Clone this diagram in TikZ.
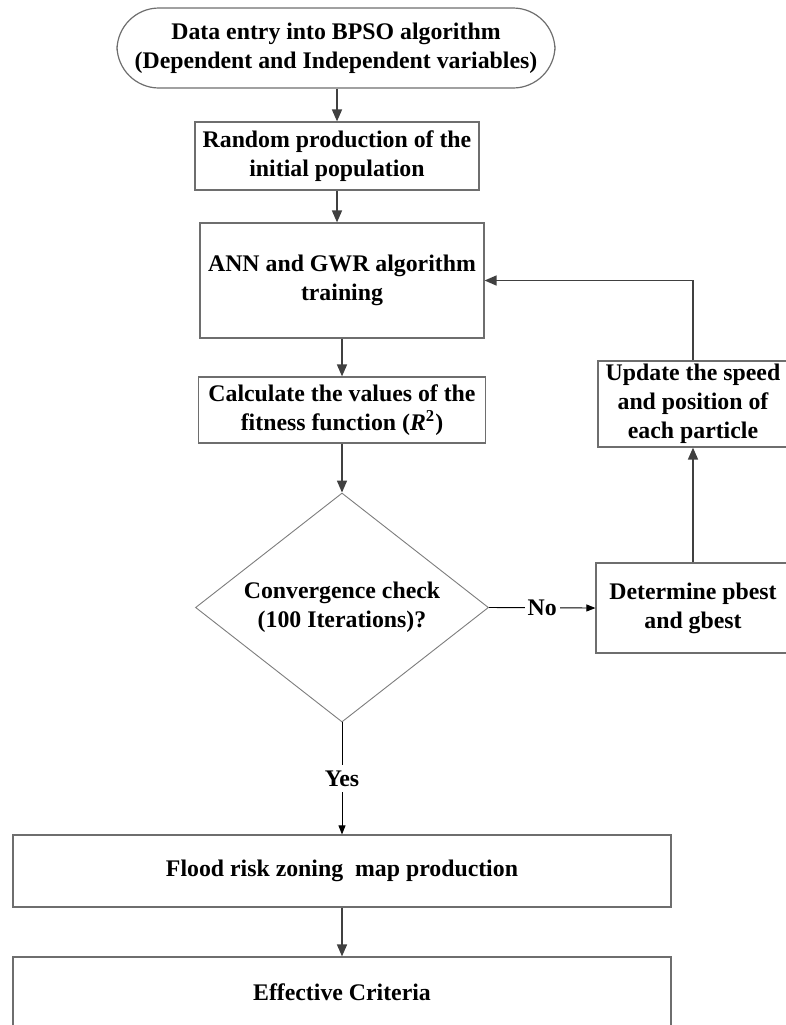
\documentclass[tikz,border=0pt]{standalone}
\usepackage{fontspec}
\setmainfont{Liberation Serif}
\usetikzlibrary{shapes.geometric,arrows.meta}
\definecolor{boxgray}{HTML}{6E6E6E}
\definecolor{arrowgray}{HTML}{404040}
\tikzset{
  every node/.style={font=\fontsize{11.9pt}{14.5pt}\selectfont\bfseries, align=center},
  box/.style={draw=boxgray, line width=0.6pt, fill=white, inner sep=0pt},
  flow/.style={draw=arrowgray, line width=0.8pt, -{Triangle[length=6pt,width=5pt]}},
  answer/.style={draw=black, line width=0.45pt, -{Triangle[length=4.5pt,width=3.5pt]}},
  tag/.style={fill=white, inner sep=1.5pt}
}
\begin{document}
\begin{tikzpicture}[x=0.5pt,y=-0.5pt]
\useasboundingbox (0,0) rectangle (786,1025);
\clip (0,0) rectangle (786,1025);
\node[box, rounded corners=21pt, minimum width=219pt, minimum height=40pt] (start) at (336,48)
  {Data entry into BPSO algorithm\\(Dependent and Independent variables)};
\node[box, minimum width=142pt, minimum height=34pt] (rand) at (337,156)
  {Random production of the\\initial population};
\node[box, minimum width=142pt, minimum height=57.5pt] (ann) at (342,280.5)
  {\rule{0pt}{6pt}ANN and GWR algorithm\\training};
\node[box, minimum width=143.5pt, minimum height=33pt] (calc) at (342,410)
  {Calculate the values of the\\fitness function (\textit{R}\textsuperscript{2})};
\node[box, diamond, aspect=1.28, draw=boxgray!90, line width=0.45pt, minimum width=146.5pt, minimum height=114.5pt] (check) at (342,607.5)
  {Convergence check\\(100 Iterations)?};
\node[box, minimum width=97pt, minimum height=45pt] (best) at (693,608)
  {Determine pbest\\and gbest};
\node[box, minimum width=95pt, minimum height=43pt] (upd) at (693,404)
  {Update the speed\\and position of\\each particle};
\node[box, minimum width=329pt, minimum height=36pt] (flood) at (342,871)
  {Flood risk zoning~ map production};
\node[box, minimum width=329pt, minimum height=35pt] (crit) at (342,992)
  {Effective Criteria};

\draw[flow] (start.south -| rand.north) -- (rand.north);
\draw[flow] (rand.south) -- (rand.south |- ann.north);
\draw[flow] (ann.south) -- (ann.south |- calc.north);
\draw[flow] (calc.south) -- (check.north);
\draw[answer] (check.east) -- node[tag] {No} (best.west);
\draw[flow] (best.north) -- (upd.south);
\draw[flow] (upd.north) |- (ann.east);
\draw[answer] (check.south) -- node[tag, inner sep=3pt] {Yes} (flood.north);
\draw[flow] (flood.south) -- (crit.north);
\end{tikzpicture}
\end{document}
